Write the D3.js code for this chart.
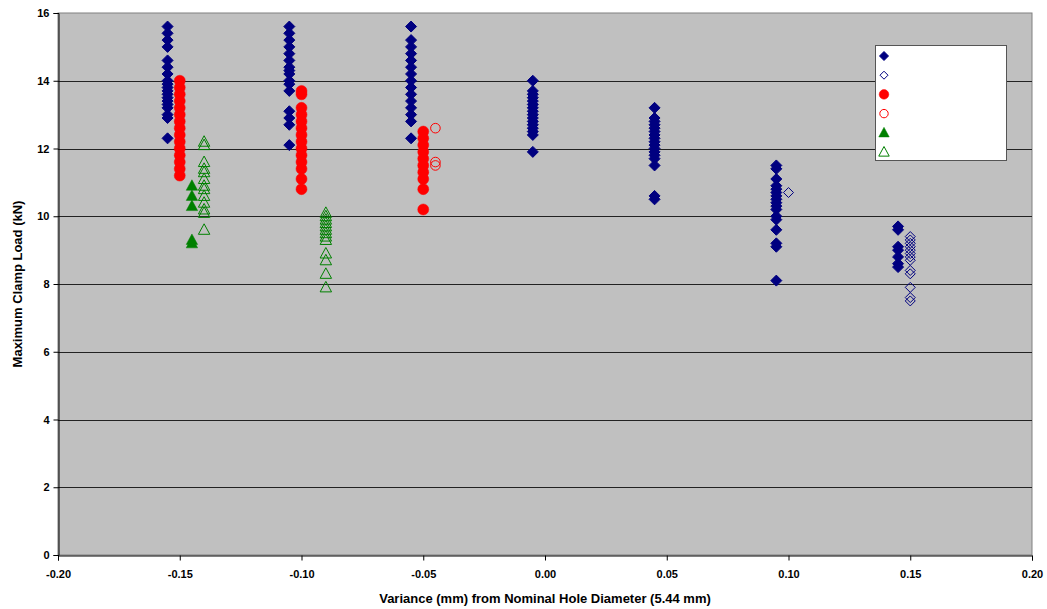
<!DOCTYPE html>
<html><head><meta charset="utf-8">
<script src="https://cdn.jsdelivr.net/npm/d3@7"></script>
<style>body{margin:0;background:#fff;font-family:Arial,"Liberation Sans",sans-serif}</style>
</head><body><svg id="c" width="1047" height="609"></svg>
<script>
// ---- data ----
const xTicks = [-0.20,-0.15,-0.10,-0.05,0.00,0.05,0.10,0.15,0.20];
const yTicks = [0,2,4,6,8,10,12,14,16];
const seriesNames = ["s1","s2","s3","s4","s5","s6"];
// series 1: filled navy diamonds [x, y]
const s1 = [
  [-0.155,15.6],[-0.155,15.4],[-0.155,15.2],[-0.155,15.0],[-0.155,14.6],[-0.155,14.4],[-0.155,14.2],[-0.155,14.0],
  [-0.155,13.9],[-0.155,13.8],[-0.155,13.7],[-0.155,13.6],[-0.155,13.5],[-0.155,13.4],[-0.155,13.3],[-0.155,13.2],
  [-0.155,13.0],[-0.155,12.9],[-0.155,12.3],
  [-0.105,15.6],[-0.105,15.4],[-0.105,15.2],[-0.105,15.0],[-0.105,14.8],[-0.105,14.6],[-0.105,14.4],[-0.105,14.3],
  [-0.105,14.2],[-0.105,14.0],[-0.105,13.9],[-0.105,13.7],[-0.105,13.1],[-0.105,12.9],[-0.105,12.7],[-0.105,12.1],
  [-0.055,15.6],[-0.055,15.2],[-0.055,15.0],[-0.055,14.8],[-0.055,14.6],[-0.055,14.4],[-0.055,14.2],[-0.055,14.0],
  [-0.055,13.8],[-0.055,13.6],[-0.055,13.4],[-0.055,13.2],[-0.055,13.0],[-0.055,12.8],[-0.055,12.3],
  [-0.005,14.0],[-0.005,13.7],[-0.005,13.6],[-0.005,13.5],[-0.005,13.4],[-0.005,13.3],[-0.005,13.2],[-0.005,13.1],
  [-0.005,13.0],[-0.005,12.9],[-0.005,12.8],[-0.005,12.7],[-0.005,12.6],[-0.005,12.5],[-0.005,12.4],[-0.005,11.9],
  [0.045,13.2],[0.045,12.9],[0.045,12.8],[0.045,12.7],[0.045,12.6],[0.045,12.5],[0.045,12.4],[0.045,12.3],
  [0.045,12.2],[0.045,12.1],[0.045,12.0],[0.045,11.9],[0.045,11.8],[0.045,11.7],[0.045,11.5],[0.045,10.6],[0.045,10.5],
  [0.095,11.5],[0.095,11.4],[0.095,11.1],[0.095,10.9],[0.095,10.8],[0.095,10.7],[0.095,10.6],[0.095,10.5],
  [0.095,10.4],[0.095,10.3],[0.095,10.2],[0.095,10.0],[0.095,9.9],[0.095,9.6],[0.095,9.2],[0.095,9.1],[0.095,8.1],
  [0.145,9.7],[0.145,9.6],[0.145,9.1],[0.145,9.0],[0.145,8.8],[0.145,8.6],[0.145,8.5]
];
// series 2: open navy diamonds
const s2 = [
  [0.10,10.7],
  [0.15,9.4],[0.15,9.3],[0.15,9.2],[0.15,9.1],[0.15,9.0],[0.15,8.9],[0.15,8.8],[0.15,8.7],[0.15,8.4],[0.15,8.3],
  [0.15,7.9],[0.15,7.6],[0.15,7.5]
];
// series 3: filled red circles
const s3 = [
  [-0.15,14.0],[-0.15,13.8],[-0.15,13.6],[-0.15,13.4],[-0.15,13.2],[-0.15,13.0],[-0.15,12.8],[-0.15,12.6],
  [-0.15,12.4],[-0.15,12.2],[-0.15,12.0],[-0.15,11.8],[-0.15,11.6],[-0.15,11.4],[-0.15,11.2],
  [-0.10,13.7],[-0.10,13.6],[-0.10,13.2],[-0.10,13.0],[-0.10,12.8],[-0.10,12.6],[-0.10,12.4],[-0.10,12.2],
  [-0.10,12.0],[-0.10,11.8],[-0.10,11.6],[-0.10,11.4],[-0.10,11.1],[-0.10,10.8],
  [-0.05,12.5],[-0.05,12.3],[-0.05,12.1],[-0.05,11.9],[-0.05,11.7],[-0.05,11.5],[-0.05,11.3],[-0.05,11.1],
  [-0.05,10.8],[-0.05,10.2]
];
// series 4: open red circles
const s4 = [[-0.045,12.6],[-0.045,11.6],[-0.045,11.5]];
// series 5: filled green triangles
const s5 = [[-0.145,10.9],[-0.145,10.6],[-0.145,10.3],[-0.145,9.3],[-0.145,9.2]];
// series 6: open green triangles
const s6 = [
  [-0.14,12.2],[-0.14,12.1],[-0.14,11.6],[-0.14,11.4],[-0.14,11.3],[-0.14,11.1],[-0.14,10.9],[-0.14,10.8],
  [-0.14,10.6],[-0.14,10.4],[-0.14,10.2],[-0.14,10.1],[-0.14,9.6],
  [-0.09,10.1],[-0.09,10.0],[-0.09,9.9],[-0.09,9.8],[-0.09,9.7],[-0.09,9.6],[-0.09,9.5],[-0.09,9.4],[-0.09,9.3],
  [-0.09,8.9],[-0.09,8.7],[-0.09,8.3],[-0.09,7.9]
];

const svg = d3.select("#c");
const m = {l:58, r:1047-1032, t:13, b:609-555};
const x = d3.scaleLinear().domain([-0.2,0.2]).range([58,1032]);
const y = d3.scaleLinear().domain([0,16]).range([555,13]);

svg.append("rect").attr("x",58).attr("y",13).attr("width",974).attr("height",542)
  .attr("fill","#c0c0c0").attr("stroke","#808080").attr("stroke-width",1);

// grid
svg.append("g").selectAll("line").data(yTicks.filter(d=>d>0&&d<16)).join("line")
  .attr("x1",58).attr("x2",1032).attr("y1",d=>Math.round(y(d))+0.5).attr("y2",d=>Math.round(y(d))+0.5)
  .attr("stroke","#222").attr("stroke-width",1);

// axes
const yAxis = d3.axisLeft(y).tickValues(yTicks).tickFormat(d3.format("d")).tickSize(5).tickPadding(4);
const gy = svg.append("g").attr("transform","translate(58.5,0)").call(yAxis);
const xAxis = d3.axisBottom(x).tickValues(xTicks).tickFormat(d3.format(".2f")).tickSize(5).tickPadding(10);
const gx = svg.append("g").attr("transform","translate(0,555.5)").call(xAxis);
[gy,gx].forEach(g=>{
  g.select(".domain").attr("stroke","#000");
  g.selectAll(".tick line").attr("stroke","#000");
  g.selectAll("text").attr("fill","#000").style("font-family","Arial, 'Liberation Sans', sans-serif")
   .style("font-size","11px").style("font-weight","bold");
});
gx.selectAll("text").text(d=>d<0 ? "-"+Math.abs(d).toFixed(2) : d.toFixed(2));

svg.append("text").attr("x",545).attr("y",603).attr("text-anchor","middle")
  .style("font-size","13px").style("font-weight","bold").text("Variance (mm) from Nominal Hole Diameter (5.44 mm)");
svg.append("text").attr("transform","translate(22,284) rotate(-90)").attr("text-anchor","middle")
  .style("font-size","13px").style("font-weight","bold").text("Maximum Clamp Load (kN)");

// marker shapes
const diamond = s => `M0,${-s}L${s},0L0,${s}L${-s},0Z`;
const tri = s => `M0,${-s}L${s*0.95},${s*0.75}L${-s*0.95},${s*0.75}Z`;
const styles = [
  {data:s1, path:diamond(5.5), fill:"#000080", stroke:"#000080", sw:1},
  {data:s2, path:diamond(5), fill:"none", stroke:"#000080", sw:1},
  {data:s3, path:null, r:5.5, fill:"#ff0000", stroke:"#ff0000", sw:0.5},
  {data:s4, path:null, r:4.8, fill:"none", stroke:"#ff0000", sw:1},
  {data:s5, path:tri(6), fill:"#008000", stroke:"#008000", sw:0.5},
  {data:s6, path:tri(6), fill:"none", stroke:"#008000", sw:1}
];
function draw(g, st, pts){
  if(st.path){
    g.selectAll("path").data(pts).join("path").attr("d",st.path)
      .attr("transform",d=>`translate(${x(d[0])},${y(d[1])})`)
      .attr("fill",st.fill).attr("stroke",st.stroke).attr("stroke-width",st.sw);
  } else {
    g.selectAll("circle").data(pts).join("circle").attr("cx",d=>x(d[0])).attr("cy",d=>y(d[1])).attr("r",st.r)
      .attr("fill",st.fill).attr("stroke",st.stroke).attr("stroke-width",st.sw);
  }
}
styles.forEach(st=>draw(svg.append("g"), st, st.data));

// legend (markers only, no labels in original)
const lg = svg.append("g");
lg.append("rect").attr("x",875.5).attr("y",45.5).attr("width",131).attr("height",115)
  .attr("fill","#fff").attr("stroke","#555").attr("stroke-width",1);
const legendStyles = [
  {path:diamond(4.5), fill:"#000080", stroke:"#000080", sw:1},
  {path:diamond(4), fill:"none", stroke:"#000080", sw:1},
  {path:null, r:4.8, fill:"#ff0000", stroke:"#ff0000", sw:0.5},
  {path:null, r:4.2, fill:"none", stroke:"#ff0000", sw:1},
  {path:tri(5.5), fill:"#008000", stroke:"#008000", sw:0.5},
  {path:tri(5.5), fill:"none", stroke:"#008000", sw:1}
];
seriesNames.forEach((n,i)=>{
  const st = legendStyles[i], cy = 56 + i*19.2, cx = 884;
  if(st.path) lg.append("path").attr("d",st.path).attr("transform",`translate(${cx},${cy})`)
    .attr("fill",st.fill).attr("stroke",st.stroke).attr("stroke-width",st.sw);
  else lg.append("circle").attr("cx",cx).attr("cy",cy).attr("r",st.r)
    .attr("fill",st.fill).attr("stroke",st.stroke).attr("stroke-width",st.sw);
});
</script></body></html>
